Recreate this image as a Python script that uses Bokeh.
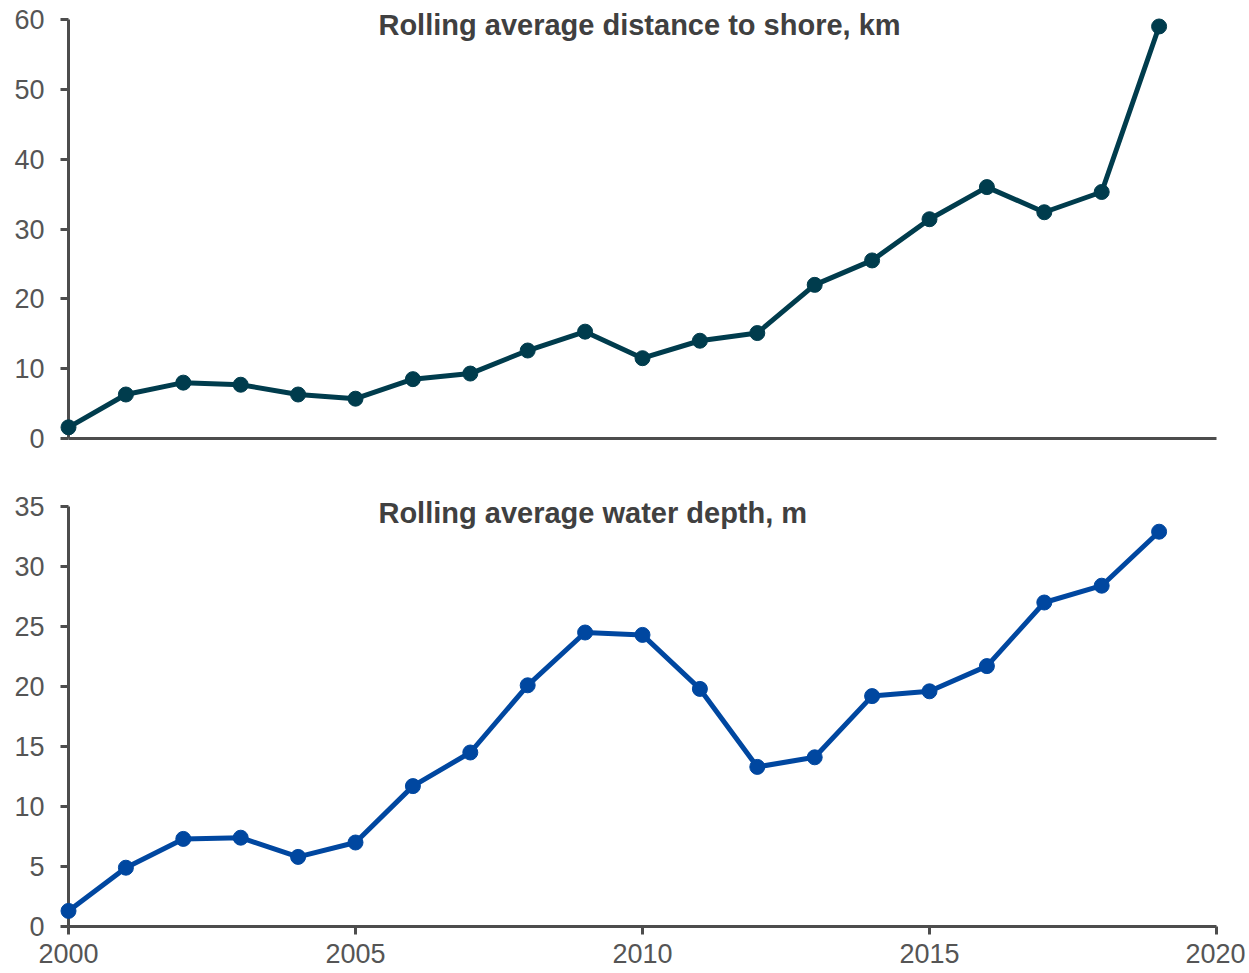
from bokeh.plotting import figure
from bokeh.layouts import column
from bokeh.models import Range1d, FixedTicker, ColumnDataSource
from bokeh.core.properties import value
from bokeh.embed import file_html
from bokeh.resources import INLINE

years = list(range(2000, 2020))
distance_km = [1.6, 6.3, 8.0, 7.7, 6.3, 5.7, 8.5, 9.3, 12.6, 15.3,
               11.5, 14.0, 15.1, 22.0, 25.5, 31.4, 36.0, 32.4, 35.3, 59.0]
depth_m = [1.3, 4.9, 7.3, 7.4, 5.8, 7.0, 11.7, 14.5, 20.1, 24.5,
           24.3, 19.8, 13.3, 14.1, 19.2, 19.6, 21.7, 27.0, 28.4, 32.9]

top_title = "Rolling average distance to shore, km"
bottom_title = "Rolling average water depth, m"
top_yticks = [0, 10, 20, 30, 40, 50, 60]
bottom_yticks = [0, 5, 10, 15, 20, 25, 30, 35]
xticks = [2000, 2005, 2010, 2015, 2020]

FONT = "Liberation Sans"
AXIS_COLOR = "#4d4d4d"
LABEL_COLOR = "#555555"
TITLE_COLOR = "#404040"
W = 1245
LEFT = 68
FRAME_W = 1148


def style(p):
    p.toolbar.logo = None
    p.outline_line_color = None
    p.background_fill_color = "white"
    p.border_fill_color = "white"
    p.xgrid.visible = False
    p.ygrid.visible = False
    for ax in p.axis:
        ax.axis_line_color = AXIS_COLOR
        ax.axis_line_width = 3
        ax.major_tick_line_color = AXIS_COLOR
        ax.major_tick_line_width = 3
        ax.major_tick_in = 0
        ax.major_tick_out = 8
        ax.minor_tick_line_color = None
        ax.major_label_text_font = FONT
        ax.major_label_text_font_size = "27px"
        ax.major_label_text_color = LABEL_COLOR
    p.yaxis.major_label_standoff = 16


def add_title(p, text, y):
    p.text(x=[2005.4], y=[y], text=[text], text_font=value(FONT),
           text_font_size="29px", text_font_style="bold",
           text_color=TITLE_COLOR, text_align="left",
           text_baseline="alphabetic", level="overlay")


p1 = figure(width=W, height=470, output_backend="svg", toolbar_location=None,
            x_range=Range1d(2000, 2020), y_range=Range1d(0, 60),
            min_border_left=LEFT, min_border_right=W - LEFT - FRAME_W,
            min_border_top=19, min_border_bottom=470 - 19 - 419)
style(p1)
p1.yaxis.ticker = FixedTicker(ticks=top_yticks)
p1.xaxis.ticker = FixedTicker(ticks=[])
p1.xaxis.major_tick_out = 0
src1 = ColumnDataSource(dict(x=years, y=distance_km))
p1.line("x", "y", source=src1, line_color="#003c4d", line_width=5, level="overlay")
p1.scatter("x", "y", source=src1, size=15, fill_color="#003c4d",
           line_color="#003c4d", level="overlay")
add_title(p1, top_title, 59.15)

p2 = figure(width=W, height=503, output_backend="svg", toolbar_location=None,
            x_range=Range1d(2000, 2020), y_range=Range1d(0, 35),
            min_border_left=LEFT, min_border_right=W - LEFT - FRAME_W,
            min_border_top=36, min_border_bottom=503 - 36 - 420)
style(p2)
p2.yaxis.ticker = FixedTicker(ticks=bottom_yticks)
p2.xaxis.ticker = FixedTicker(ticks=xticks)
p2.xaxis.major_label_standoff = 9
src2 = ColumnDataSource(dict(x=years, y=depth_m))
p2.line("x", "y", source=src2, line_color="#0047a0", line_width=5, level="overlay")
p2.scatter("x", "y", source=src2, size=15, fill_color="#0047a0",
           line_color="#0047a0", level="overlay")
add_title(p2, bottom_title, 34.42)

layout = column(p1, p2, spacing=0)
open("out.html", "w").write(file_html(layout, INLINE))
